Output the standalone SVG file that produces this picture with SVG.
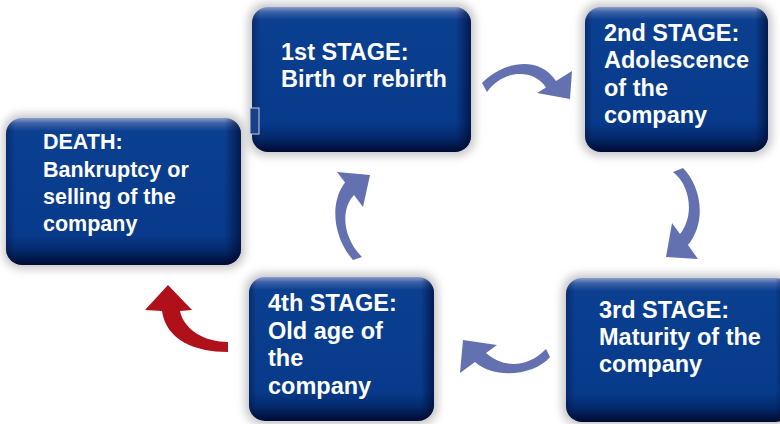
<svg xmlns="http://www.w3.org/2000/svg" width="780" height="424" viewBox="0 0 780 424">
<defs>
<linearGradient id="gV" x1="0" y1="0" x2="0" y2="1">
<stop offset="0" stop-color="#8a9ccb"/>
<stop offset="0.035" stop-color="#3d62a8"/>
<stop offset="0.09" stop-color="#0b3f90"/>
<stop offset="0.8" stop-color="#073a8a"/>
<stop offset="0.9" stop-color="#042a6c"/>
<stop offset="1" stop-color="#000a32"/>
</linearGradient>
<linearGradient id="gH" x1="0" y1="0" x2="1" y2="0">
<stop offset="0" stop-color="#000a30" stop-opacity="0.35"/>
<stop offset="0.04" stop-color="#000a30" stop-opacity="0"/>
<stop offset="0.93" stop-color="#000a30" stop-opacity="0"/>
<stop offset="1" stop-color="#000a30" stop-opacity="0.7"/>
</linearGradient>
<filter id="sh" x="-20%" y="-20%" width="140%" height="140%">
<feGaussianBlur stdDeviation="4"/>
</filter>
<style>
.shadow{fill:#9a9a9a;opacity:0.55;filter:url(#sh)}
.box{fill:url(#gV)}
.edge{fill:url(#gH)}
.t{font-family:"Liberation Sans",Arial,sans-serif;font-weight:bold;fill:#ffffff;font-size:23.5px}
.td{font-family:"Liberation Sans",Arial,sans-serif;font-weight:bold;fill:#ffffff;font-size:21.5px}
.blue{fill:#6471b0}
.red{fill:#b0101a}
</style>
</defs>
<rect width="780" height="424" fill="#ffffff"/>

<g id="death">
<rect class="shadow" x="3" y="114" width="242" height="155" rx="18"/>
<rect class="box" x="6" y="118" width="235" height="147" rx="16"/>
<rect class="edge" x="6" y="118" width="235" height="147" rx="16"/>
<text class="td" x="43" y="149">DEATH:</text>
<text class="td" x="43" y="176.5">Bankruptcy or</text>
<text class="td" x="43" y="204">selling of the</text>
<text class="td" x="43" y="231">company</text>
</g>

<g id="stage1">
<rect class="shadow" x="248" y="3" width="227" height="153" rx="18"/>
<rect class="box" x="252" y="7" width="219" height="145" rx="16"/>
<rect class="edge" x="252" y="7" width="219" height="145" rx="16"/>
<rect x="250" y="108" width="9" height="26" fill="#1a3f88" stroke="#c8cfe0" stroke-width="1"/>
<text class="t" x="281" y="60">1st STAGE:</text>
<text class="t" x="281" y="87">Birth or rebirth</text>
</g>

<g id="stage2">
<rect class="shadow" x="581" y="3" width="191" height="153" rx="18"/>
<rect class="box" x="585" y="7" width="183" height="145" rx="16"/>
<rect class="edge" x="585" y="7" width="183" height="145" rx="16"/>
<text class="t" x="604" y="40.7">2nd STAGE:</text>
<text class="t" x="604" y="68">Adolescence</text>
<text class="t" x="604" y="95.5">of the</text>
<text class="t" x="604" y="123">company</text>
</g>

<g id="stage3">
<rect class="shadow" x="562" y="274" width="233" height="152" rx="18"/>
<rect class="box" x="566" y="278" width="225" height="144" rx="16"/>
<rect class="edge" x="566" y="278" width="225" height="144" rx="16"/>
<text class="t" x="599" y="317.7">3rd STAGE:</text>
<text class="t" x="599" y="345">Maturity of the</text>
<text class="t" x="599" y="372">company</text>
</g>

<g id="stage4">
<rect class="shadow" x="245" y="273" width="193" height="152" rx="18"/>
<rect class="box" x="249" y="277" width="185" height="144" rx="16"/>
<rect class="edge" x="249" y="277" width="185" height="144" rx="16"/>
<text class="t" x="268" y="311">4th STAGE:</text>
<text class="t" x="268" y="338.5">Old age of</text>
<text class="t" x="268" y="366">the</text>
<text class="t" x="268" y="393.5">company</text>
</g>

<g id="connectors">
<path class="blue" d="M482,83 C505,60 540,56 556,81 L572,71 L570,99 L537,93 L546,87.5 C533,68 502,70 487,92 Z"/>
<path class="blue" d="M683,168 C700,185 708,220 688,245 L698,259 L666,257 L672,223 L680,234 C695,215 690,185 673,172 Z"/>
<path class="blue" d="M546,349 C530,366 505,370 486,353 L497,345 L463,340 L460,373 L475,362 C495,380 535,375 550,357 Z"/>
<path class="blue" d="M353,260 C335,240 328,205 345,182.5 L337,172 L370,175 L363,207 L354,195 C340,210 343,238 362,257 Z"/>
<path class="red" d="M228,342 L228,352 C195,352 166,340 162,311 L145,310 L168,285 L192,310 L180,311 C184,330 205,342 228,342 Z"/>
</g>
</svg>
